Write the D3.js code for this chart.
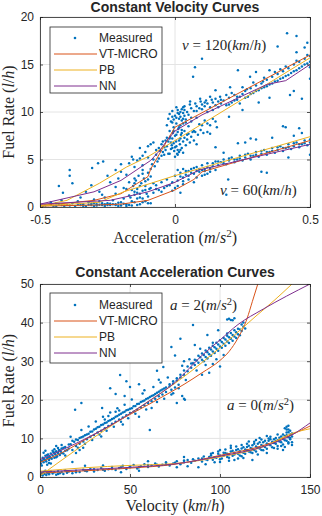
<!DOCTYPE html>
<html><head><meta charset="utf-8">
<script src="https://cdn.jsdelivr.net/npm/d3@7"></script>
<style>
html,body{margin:0;padding:0;background:#fff;}
svg{display:block;}
text{fill:#262626;}
</style></head>
<body><svg id="c" width="322" height="516"></svg>
<script>
// ---------- DATA: top panel (constant velocity) ----------
const topTitle = "Constant Velocity Curves";
const topXTicks = [-0.5, 0, 0.5];
const topYTicks = [0, 5, 10, 15, 20];
const topXTickLabels = ["-0.5", "0", "0.5"];
const seriesNames = ["VT-MICRO", "PB", "NN"];
const seriesColors = ["#D95319", "#EDB120", "#7E2F8E"];
const measuredColor = "#0072BD";

const vtMicro120 = [[-0.5,0.2],[-0.4,0.4],[-0.3,0.7],[-0.2,1.4],[-0.1,3.2],[-0.09,4.0],[0,8.4],[0.5,16.0]];
const vtMicro60  = [[-0.5,0.1],[-0.3,0.2],[-0.2,0.3],[-0.1,0.7],[0,1.8],[0.07,2.9],[0.1,3.7],[0.5,7.0]];
const pb120 = [[-0.5,0.1],[-0.4,0.7],[-0.28,2.5],[-0.18,4.2],[-0.1,5.3],[0,7.0],[0.5,15.7]];
const pb60  = [[-0.5,0.1],[-0.28,0.5],[-0.19,1.6],[-0.1,2.4],[0,3.3],[0.5,7.4]];
const nn120 = [[-0.5,0.3],[-0.3,1.6],[-0.2,2.8],[-0.09,4.9],[-0.055,6.0],[-0.03,7.0],[0,8.0],[0.1,9.7],[0.34,12.9],[0.41,13.3],[0.5,15.0]];
const nn60  = [[-0.5,0.3],[-0.24,0.7],[-0.1,1.6],[0,2.6],[0.09,3.9],[0.5,6.6]];

const measured120 = [[-0.02,9.8],[-0.01,10.1],[0,9.6],[0.01,9.9],[0.015,9.3],[-0.015,9.0],[0.005,8.8],[-0.005,8.4],[0.02,8.6],[-0.02,8.0],[0.01,7.9],[0,7.5],[-0.01,7.2],[0.015,7.0],[-0.005,6.7],[0.005,6.4],[-0.015,6.1],[0.01,6.0],[-0.02,5.6],[0,5.3],[-0.01,8.9],[0.02,9.5],[0.025,10.3],[-0.025,9.3],[0.005,10.5],[0.03,9.9],[-0.008,7.8],[0.012,8.2],[-0.018,7.4],[0.022,7.6],[0.004,6.9],[-0.012,6.5],[0.018,6.6],[-0.003,5.9],[0.008,5.6],[-0.03,8.6],[-0.035,7.0],[-0.04,6.3],[-0.045,5.8],[-0.05,6.6],[-0.06,6.2],[-0.07,5.5],[-0.08,6.8],[-0.09,6.6],[-0.1,5.2],[-0.12,5.4],[-0.13,5.1],[-0.155,5.0],[-0.17,4.6],[-0.2,3.7],[-0.21,3.0],[-0.18,3.4],[-0.24,2.6],[-0.22,2.1],[-0.28,1.6],[-0.27,1.3],[-0.285,4.6],[-0.266,4.8],[-0.307,4.1],[-0.39,3.9],[-0.39,3.3],[-0.31,2.3],[-0.415,1.5],[-0.35,1.0],
[0.03,8.8],[0.04,9.2],[0.05,8.5],[0.06,9.0],[0.07,8.0],[0.075,7.9],[0.08,9.4],[0.09,8.7],[0.1,8.6],[0.11,9.1],[0.12,8.8],[0.13,8.6],[0.14,9.3],[0.15,9.0],[0.155,8.4],[0.045,7.6],[0.035,10.2],[0.06,10.4],[0.08,10.1],[0.1,10.3],[0.12,10.0],[0.14,10.2],[0.16,10.5],[0.17,10.9],
[0.18,11.2],[0.19,10.7],[0.2,11.5],[0.21,11.0],[0.22,11.8],[0.23,11.3],[0.24,10.9],[0.25,11.9],[0.26,12.2],[0.27,11.6],[0.28,12.5],[0.29,12.0],[0.3,12.8],[0.31,12.3],[0.32,13.0],[0.33,12.6],[0.34,13.4],[0.35,12.9],[0.36,13.7],[0.37,13.2],[0.38,14.0],[0.39,13.5],[0.4,14.3],[0.41,13.8],[0.42,14.6],[0.43,14.1],[0.44,15.0],[0.45,14.4],[0.46,15.3],[0.47,14.8],[0.48,15.6],[0.49,15.1],[0.5,15.9],[0.5,14.7],
[0.415,18.3],[0.45,18.0],[0.49,17.3],[0.38,16.9],[0.1,15.6],[0.074,14.7],[0.067,13.7],[0.233,14.4],[0.278,13.7],[0.3,14.2],[0.35,14.4],[0.39,14.5],[0.45,16.3],[0.426,11.8],[0.47,11.4],[0.326,13.2],[0.266,12.4],[0.204,12.6],[0.23,11.6],[0.167,11.6],[0.136,11.3],[0.093,11.4],[0.056,11.1],[0.03,10.5],[0.41,8.4],[0.46,8.3],[0.2,9.5],[0.25,10.2],[0.15,12.3],[0.48,16.8],[0.5,13.5],[0.44,12.2],[0.35,11.5],[0.31,11.0],
[-0.005,9.2],[0.005,9.4],[0.015,9.8],[0.025,9.1],[0.035,9.6],[0.045,10.0],[0.01,10.2],[-0.01,9.5],[0.02,10.0],[0.03,9.3],[0.04,8.9],[0.05,9.7],[0.06,9.4],[0.07,10.1],[0.08,10.6],[0.09,10.4],[0.1,10.8],[0.11,10.6],[0.12,10.9],[0.13,10.5],[0.14,11.0],[0.15,10.7],[0.16,11.1],[0.035,10.6],[0.055,10.8],[0.075,10.9],[0.095,11.1],[0.115,11.2],
[0.025,7.8],[0.035,8.0],[0.05,7.7],[0.065,7.9],[0.085,7.6],[0.095,8.1],[0.105,7.8],[0.12,7.9],[0.13,7.7],
[0.015,8.4],[0.025,8.1],[0.035,7.3],[0.045,7.1],[0.055,6.8],[0.02,7.2],[0.03,6.9],[0.04,6.5],[0.015,5.8],[0.025,6.2],[0.005,7.6],[-0.005,8.0],[0,6.3],[0.01,5.5],[0.02,6.0],[0.03,5.7],[0.06,7.4],[0.07,7.0],[0.08,6.6],
[-0.04,5.5],[-0.035,6.0],[-0.03,6.4],[-0.025,6.9],[-0.02,7.2],[-0.015,6.8],[-0.01,6.2],[-0.025,5.6],[-0.03,7.3],[-0.045,6.9],[-0.05,5.4],[-0.055,5.9],
[-0.09,4.0],[-0.085,4.5],[-0.08,5.0],[-0.075,4.3],[-0.07,6.0],[-0.065,4.8],[-0.06,5.1],[-0.1,6.4],[-0.11,5.8],[-0.12,4.4],[-0.14,4.9],[-0.16,5.3],[-0.15,4.2],[-0.13,6.2],[-0.2,4.5],[-0.22,3.9],[-0.25,3.3],
[0.2,10.8],[0.22,11.2],[0.24,11.6],[0.26,11.5],[0.28,11.9],[0.3,12.2],[0.32,12.5],[0.34,12.7],[0.36,13.0],[0.38,13.3],[0.4,13.6],[0.42,13.9],[0.44,14.3],[0.46,14.6],[0.48,15.0],[0.5,15.3],[0.21,12.0],[0.25,12.6],[0.29,13.1],[0.33,13.6],[0.37,14.2],[0.41,14.8],[0.45,15.4],[0.49,16.0],[0.19,11.8],[0.17,11.3],[0.15,11.4],[0.13,11.6],[0.11,11.0]];

const measured60 = [[-0.49,0.1],[-0.47,0.2],[-0.45,0.1],[-0.43,0.3],[-0.41,0.1],[-0.4,0.2],[-0.38,0.4],[-0.37,0.1],[-0.35,0.2],[-0.34,0.3],[-0.33,0.1],[-0.32,0.5],[-0.31,0.2],[-0.3,0.1],[-0.29,0.3],[-0.28,0.6],[-0.27,0.2],[-0.26,0.1],[-0.25,0.4],[-0.24,0.2],[-0.23,0.7],[-0.22,0.3],[-0.21,0.1],[-0.2,0.5],[-0.19,0.9],[-0.18,0.3],[-0.17,1.2],[-0.16,0.6],[-0.15,1.6],[-0.14,0.9],[-0.13,1.4],[-0.12,0.5],[-0.11,1.8],[-0.1,1.1],[-0.09,2.0],[-0.08,1.5],[-0.07,2.3],[-0.06,1.8],[-0.05,2.6],[-0.04,2.0],[-0.03,2.9],[-0.02,2.3],[-0.44,0.4],[-0.36,0.6],[-0.3,0.8],[-0.42,0.7],[-0.46,0.5],[-0.26,1.0],[-0.22,1.4],[-0.18,1.9],[-0.15,2.5],[-0.33,1.6],[-0.43,2.2],[-0.38,2.5],[-0.18,0.1],[-0.14,0.2],[-0.16,0.15],[-0.1,0.4],[-0.12,0.9],
[-0.19,2.0],[-0.17,2.6],[-0.15,3.0],[-0.13,2.2],[-0.11,2.7],[-0.09,3.2],[-0.14,1.9],[-0.12,3.5],
[0,3.3],[0.01,2.8],[0.02,3.6],[0.03,3.1],[0.04,3.8],[0.05,3.3],[0.06,4.0],[0.07,3.5],[0.08,4.2],[0.09,3.7],[0.1,4.4],[0.11,4.0],[0.12,4.6],[0.13,4.1],[0.14,4.3],[0.15,4.8],[0.16,4.4],[0.17,4.7],[0.18,5.0],[0.19,4.5],[0.2,4.9],[0.21,5.2],[0.22,4.7],[0.23,5.0],[0.24,5.4],[0.25,4.9],[0.26,5.2],[0.27,5.6],[0.28,5.0],[0.29,5.4],[0.3,5.8],[0.31,5.3],[0.32,5.6],[0.33,6.0],[0.34,5.5],[0.35,5.8],[0.36,6.2],[0.37,5.7],[0.38,6.0],[0.39,6.4],[0.4,5.9],[0.41,6.2],[0.42,6.6],[0.43,6.1],[0.44,6.4],[0.45,6.8],[0.46,6.3],[0.47,6.6],[0.48,7.0],[0.49,6.5],[0.5,6.8],
[0.233,6.7],[0.26,6.8],[0.4,8.5],[0.18,5.7],[0.197,2.9],[0.32,3.7],[0.34,3.6],[0.13,3.7],[0.11,3.4],[0.3,7.1],[0.28,7.2],[0.36,7.3],[0.44,7.5],[0.47,7.8],[0.15,6.3],[0.07,2.6],[0.03,2.4],[0,2.0],[-0.01,1.7],[0.02,1.5],[0.19,1.3],[0.42,5.2],[0.5,5.5],
[-0.165,1.0],[-0.16,1.8],[-0.155,2.2],[-0.15,1.3],[-0.145,2.8],[-0.14,1.5],[-0.135,3.3],[-0.13,1.0],[-0.125,2.5],[-0.12,1.7],[-0.115,3.0],[-0.11,2.2],[-0.105,1.4],[-0.1,2.9],[-0.095,1.9],[-0.1,3.6],[-0.12,3.9],
[0.01,3.9],[0.03,4.0],[0.05,3.8],[0.07,4.1],[0.09,4.0],[0.11,3.8],[0.13,4.0],[0.15,3.9],
[0.02,3.2],[0.04,3.4],[0.06,3.6],[0.08,3.8],[0.1,3.9],[0.12,4.2],[0.14,4.6],[0.16,4.8],[0.18,4.6],[0.2,5.1],[0.22,5.0],[0.24,5.1],[0.26,5.5],[0.28,5.4],[0.3,5.5],[0.32,5.9],[0.34,5.8],[0.36,5.9],[0.38,6.3],[0.4,6.2],[0.42,6.3],[0.44,6.7],[0.46,6.6],[0.48,6.7],[0.5,7.1],[0.03,2.7],[0.05,2.9],[0.08,3.1],[0.1,3.3],[0.12,3.5],[0.01,2.2],[-0.01,2.6],[-0.03,2.2],[-0.05,1.6],[-0.07,1.9],[-0.08,2.5],
[-0.48,0.15],[-0.46,0.25],[-0.44,0.1],[-0.42,0.2],[-0.39,0.15],[-0.36,0.25],[-0.34,0.12],[-0.31,0.35],[-0.29,0.15],[-0.27,0.4],[-0.25,0.2],[-0.23,0.3],[-0.21,0.45],[-0.2,0.15],[-0.19,0.35],[-0.17,0.2],[-0.15,0.5],[-0.13,0.3],[-0.11,0.6],[-0.09,0.4],[-0.32,0.25],[-0.28,0.25],[-0.26,0.3],[-0.24,0.35],[-0.22,0.2],[-0.3,0.4]];

// ---------- DATA: bottom panel (constant acceleration) ----------
const botTitle = "Constant Acceleration Curves";
const botXTicks = [0, 50, 100, 150];
const botYTicks = [0, 10, 20, 30, 40, 50];

const vtMicroA2 = [[0,3.8],[10,5.8],[20,8.3],[30,11.0],[40,13.6],[50,16.2],[60,18.7],[70,21.3],[80,24.0],[90,27.0],[100,30.2],[105,32.5],[110,36.0],[115,41],[118,45.5],[121,50]];
const vtMicroA0 = [[0,1.0],[25,1.6],[50,2.3],[75,3.3],[100,5.6],[125,8.3],[140,11.0],[150,13.2]];
const pbA2 = [[0,0.3],[20,7.0],[40,13.4],[60,19.5],[80,26],[100,33.5],[120,41.7],[130,45.7],[140,50]];
const pbA0 = [[0,1.5],[25,2.4],[50,3.0],[75,3.5],[100,5.2],[125,8.0],[140,11.3],[150,12.5]];
const nnA2 = [[0,4.5],[20,8.7],[40,13.6],[60,19.5],[75,24.5],[90,31.5],[100,35.5],[110,39.5],[124,43.5],[150,50]];
const nnA0 = [[0,1.3],[25,1.9],[50,2.5],[75,3.4],[100,5.4],[125,8.0],[140,10.9],[150,14.0]];

const measuredA2 = [[0.5,3.5],[1,4.2],[1.5,5.0],[2,3.8],[2.5,4.6],[3,5.5],[3.5,4.0],[4,4.9],[4.5,5.8],[5,4.4],[5.5,5.2],[6,6.1],[6.5,4.7],[7,5.6],[7.5,6.4],[8,5.0],[8.5,5.9],[9,6.7],[9.5,5.4],[10,6.2],[10.5,7.0],[11,5.7],[11.5,6.6],[12,7.4],[13,6.1],[14,7.8],[15,6.9],[2,6.3],[4,3.2],[6,3.5],[8,7.2],[12,8.3],
[16,7.4],[17,8.5],[18,7.0],[19,9.1],[20,8.0],[21,9.6],[22,8.6],[23,10.3],[24,9.2],[25,10.8],[26,9.8],[27,11.2],[28,10.4],[29,11.8],[30,10.9],[18,3.9],[20,6.2],[22,7.0],[24,7.6],
[31,12.5],[32,11.5],[33,13.0],[34,12.0],[35,13.6],[36,12.6],[37,14.1],[38,13.2],[39,14.7],[40,13.8],[41,15.2],[42,14.3],[43,15.8],[44,14.9],[45,16.4],[46,15.4],[47,16.9],[48,16.0],[49,17.4],[50,16.6],[34,10.5],[38,15.8],[42,16.9],[46,13.6],[36,14.9],[44,17.2],
[51,17.8],[52,16.9],[53,18.4],[54,17.4],[55,19.0],[56,18.0],[57,19.6],[58,18.6],[59,20.2],[60,19.2],[61,20.7],[62,19.6],[63,21.2],[64,20.3],[65,21.8],[66,20.9],[67,22.4],[68,21.4],[69,22.9],[70,22.0],[61,12.2],[55,15.6],[62,17.9],
[72,23.5],[73,22.6],[74,24.2],[75,23.2],[76,25.0],[77,23.9],[78,25.8],[80,26.5],[82,27.4],[84,28.3],[85,29.5],[86,29.0],[87,30.2],[88,29.6],[89,31.0],[90,30.4],[91,31.6],[92,31.1],[93,32.3],[94,31.8],[95,33.0],[96,32.5],[97,33.6],[98,33.2],[99,34.3],[100,33.8],[101,35.0],[102,34.5],[103,35.6],[104,35.1],[105,36.2],[106,35.8],[107,36.8],[108,36.4],[109,37.5],[110,37.0],[111,38.2],[112,37.8],[113,38.9],[114,38.5],[112,39.5],[113,40.0],[96,34.8],[104,37.2],[98,30.5],[102,31.6],[100,28.6],[96,29.3],
[104,40.8],[105,41.0],[106,40.7],[107,40.6],[108,41.1],[85,39.4],[99,38.0],[93,36.8],[78,35.8],[73,33.7],[75,31.5],[68.5,28.5],[65,27.5],[44.5,26.4],[48,24.8],[39,23.0],[23,19.2],[19.5,17.4],[34.5,17.9],[50,23.3],[47,21.0],[42,21.5],[55,24.0],[58,22.5],[66,25.2],[80,30.0],[86,34.2],[90,26.5],[94,27.0],[79,21.0],[80,20.3],[77,23.0],[74,21.7],[76,19.2],[80.5,20.0],
[1,3.0],[2,4.6],[3,4.3],[4,5.7],[5,5.1],[6,4.9],[7,6.8],[8,6.2],[9,5.1],[10,7.5],[11,6.9],[12,6.2],[13,7.6],[14,6.8],[16,8.4],[18,9.4],[20,9.7],[22,10.1],[24,10.5],[26,11.0],[28,11.7],[30,12.3],[32,12.9],[34,13.5],[36,14.0],[38,14.5],[40,15.0],[42,15.6],[44,16.1],[46,16.7],[48,17.3],[50,17.7],[52,18.3],[54,18.9],[56,19.4],[58,19.8],[60,20.4],[62,21.0],[64,21.5],[66,22.1],[68,22.7],[70,23.2],[72,24.0],[74,24.8],[76,25.6],[78,26.5],[80,27.6],[82,28.6],[84,29.4],[86,30.4],[88,31.4],[90,32.0],[92,32.8],[94,33.5],[96,34.0],[98,34.8],[100,35.4],[102,36.0],[104,36.6],[106,37.3],[108,38.0],[110,38.4],[111,36.7],[109,36.0],[107,35.3],[105,34.7],[103,34.0],[101,33.5],[99,32.7],[97,32.1],[95,31.4],[93,30.7],[91,30.0],
[3,6.8],[5,3.6],[9,8.0],[14,5.6],[17,10.4],[21,7.6],[23,12.2],[25,8.6],[27,13.1],[29,9.6],[31,14.4],[33,11.0],[35,15.6],[37,12.0],[39,16.7],[41,13.0],[43,17.8],[45,14.3],[47,18.7],[49,15.2],[51,20.1],[53,16.4],[57,21.6],[59,17.5],[63,23.3],[65,19.4],[67,24.5],[69,20.3],[71,25.8],[73,21.4],[79,28.8],[81,25.1],[83,30.5],[87,27.6],[89,33.2],[92,29.0]];

const measuredA0 = [[0.5,0.6],[1,1.0],[1.5,0.4],[2,1.3],[2.5,0.8],[3,1.6],[3.5,0.5],[4,1.1],[5,0.7],[6,1.4],[7,0.9],[8,1.2],[9,0.6],[10,1.5],[11,1.0],[12,1.3],[13,0.8],[14,1.7],[15,1.1],[16,1.4],[18,1.0],[20,1.6],[22,1.3],[24,1.9],[26,1.5],[28,2.1],[30,1.4],[32,1.8],[34,2.3],[36,1.6],[38,2.0],[40,2.6],[42,1.8],[44,2.3],[46,2.9],[48,2.1],[50,2.5],[52,3.1],[54,2.2],[56,2.8],[58,3.3],[60,2.6],[62,3.0],[64,3.5],[66,2.7],[68,3.2],[70,3.8],[72,3.0],[74,3.5],[76,4.1],[78,3.3],[80,3.8],[82,4.4],[84,3.7],[86,4.2],[88,4.8],[90,4.0],[92,4.6],[94,5.2],[96,4.5],[98,5.0],[100,5.6],[101,4.8],[102,5.5],[103,6.2],[104,5.2],[105,5.9],[106,6.6],[107,5.5],[108,6.3],[109,7.0],[110,6.0],[111,6.7],[112,7.4],[113,6.3],[114,7.1],[115,7.8],[116,6.6],[117,7.5],[118,8.2],[119,7.0],[120,7.9],[121,8.6],[122,7.4],[123,8.3],[124,9.0],[125,7.8],[126,8.7],[127,9.4],[128,8.2],[129,9.1],[130,9.8],[131,8.6],[132,9.5],[133,10.2],[134,9.0],[135,9.9],[136,10.6],[137,9.4],[137,11.5],[138,10.3],[138,12.3],[138,8.7],[139,11.0],[139,9.8],[136,12.6],[137,13.0],[140,10.5],[140,9.0],[128,10.4],[124,6.9],[118,6.2],[112,5.4],[106,8.1],[100,7.0],[96,6.2],[92,3.3],[88,2.5],[82,2.8],[76,2.5],[110,4.8],[130,7.5],[134,8.0],[126,10.6],[120,9.6],[60,4.1],[55,1.6],[45,1.2],[35,3.0],[25,2.9],[80,5.2],[100,3.9],[116,9.2],[122,10.1],[132,11.0],[136,7.8],
[90,4.8],[91,5.3],[93,4.4],[95,5.6],[97,5.1],[99,6.0],[100,4.6],[102,6.3],[104,6.0],[105,5.0],[107,6.8],[108,5.8],[110,7.2],[111,5.6],[113,7.7],[114,6.0],[115,6.9],[116,8.1],[117,6.4],[118,7.3],[119,8.6],[120,6.6],[121,7.6],[122,9.0],[123,7.0],[124,8.0],[125,9.4],[126,7.3],[127,8.5],[128,9.8],[129,7.7],[130,8.8],[131,10.1],[132,8.0],[133,9.2],[134,10.5],[135,8.4],[136,9.5],[137,10.8],[138,9.0],[138,11.6],[139,10.1],[139,12.0],[137,12.3],[138,13.3],[140,11.3],[135,11.0],[131,9.3],[127,10.0],[123,9.7],[119,9.1],[115,8.6],[112,8.3],[109,7.9],[106,7.5],[103,7.1],[99,6.6],[95,6.0],[97,3.8],[105,4.2],[113,4.9],[121,5.8],[126,6.2],[132,7.3],[135,7.0],[140,8.3],[118,4.4],[108,4.4],
[5,1.0],[10,0.8],[15,1.5],[20,1.2],[25,1.6],[30,2.0],[35,1.9],[40,2.1],[45,2.5],[50,2.8],[55,2.5],[60,3.1],[65,3.2],[70,3.3],[75,3.7],[80,4.3],[85,4.6]];

// ---------- DRAWING ----------
const svg = d3.select("#c");
const SANS = "'Liberation Sans', Arial, Helvetica, sans-serif";
const SERIF = "'Liberation Serif', 'Times New Roman', serif";
const AX = "#262626";

function mathText(g, x, y, parts, size, anchor) {
  const t = g.append("text").attr("x", x).attr("y", y)
    .attr("font-family", SERIF).attr("font-size", size)
    .attr("text-anchor", anchor || "start");
  parts.forEach(p => {
    const ts = t.append("tspan").text(p.t);
    if (p.i) ts.attr("font-style", "italic");
    if (p.sup) ts.attr("baseline-shift", "super").attr("font-size", size * 0.7);
  });
  return t;
}

function panel(cfg) {
  const {x0, x1, y0, y1} = cfg;
  const xs = d3.scaleLinear().domain(cfg.xDomain).range([x0, x1]);
  const ys = d3.scaleLinear().domain(cfg.yDomain).range([y1, y0]);
  const g = svg.append("g");
  const cid = "clip" + cfg.id;
  svg.append("clipPath").attr("id", cid).append("rect")
    .attr("x", x0).attr("y", y0).attr("width", x1 - x0).attr("height", y1 - y0);

  const grid = g.append("g").attr("stroke", "#e4e4e4").attr("stroke-width", 1);
  cfg.xTicks.forEach(v => grid.append("line").attr("x1", xs(v)).attr("x2", xs(v)).attr("y1", y0).attr("y2", y1));
  cfg.yTicks.forEach(v => grid.append("line").attr("x1", x0).attr("x2", x1).attr("y1", ys(v)).attr("y2", ys(v)));

  const pts = g.append("g").attr("clip-path", `url(#${cid})`);
  cfg.measured.forEach(arr => {
    pts.selectAll(null).data(arr).enter().append("circle")
      .attr("cx", d => xs(d[0])).attr("cy", d => ys(d[1])).attr("r", 1.25)
      .attr("fill", measuredColor);
  });

  const line = d3.line().x(d => xs(d[0])).y(d => ys(d[1])).curve(cfg.curve);
  const lg = g.append("g").attr("clip-path", `url(#${cid})`).attr("fill", "none").attr("stroke-width", 1);
  cfg.lines.forEach((pair, i) => {
    pair.forEach(arr => lg.append("path").attr("d", line(arr)).attr("stroke", seriesColors[i]));
  });

  const axB = d3.axisBottom(xs).tickValues(cfg.xTicks).tickSize(-3).tickPadding(8.5)
    .tickFormat((d, i) => cfg.xLabels ? cfg.xLabels[i] : d);
  const axL = d3.axisLeft(ys).tickValues(cfg.yTicks).tickSize(-3).tickPadding(6);
  const gb = g.append("g").attr("transform", `translate(0,${y1})`).call(axB);
  const gl = g.append("g").attr("transform", `translate(${x0},0)`).call(axL);
  const gt = g.append("g").attr("transform", `translate(0,${y0})`).call(d3.axisTop(xs).tickValues(cfg.xTicks).tickSize(-3).tickFormat(""));
  const gr = g.append("g").attr("transform", `translate(${x1},0)`).call(d3.axisRight(ys).tickValues(cfg.yTicks).tickSize(-3).tickFormat(""));
  [gb, gl, gt, gr].forEach(a => {
    a.select(".domain").attr("stroke", AX).attr("stroke-width", 0.8);
    a.selectAll(".tick line").attr("stroke", AX).attr("stroke-width", 0.8);
    a.selectAll(".tick text").attr("font-family", SANS).attr("font-size", 12).attr("fill", AX);
  });

  g.append("text").attr("x", (x0 + x1) / 2).attr("y", cfg.titleY).attr("text-anchor", "middle")
    .attr("font-family", SANS).attr("font-weight", "bold").attr("font-size", 14).attr("fill", "#000").text(cfg.title);

  mathText(g, (x0 + x1) / 2, cfg.xLabelY, cfg.xLabelParts, 16, "middle");
  const yl = mathText(g, 0, 0, [{t:"Fuel Rate ("},{t:"l",i:1},{t:"/"},{t:"h",i:1},{t:")"}], 16, "middle");
  yl.attr("transform", `translate(14,${(y0 + y1) / 2}) rotate(-90)`);

  cfg.notes.forEach(n => mathText(g, n.x, n.y, n.parts, 15, "start"));

  const L = cfg.legend;
  const leg = g.append("g");
  leg.append("rect").attr("x", L.x).attr("y", L.y).attr("width", L.w).attr("height", L.h)
    .attr("fill", "#fff").attr("stroke", AX).attr("stroke-width", 0.8);
  const names = ["Measured"].concat(seriesNames);
  names.forEach((nm, i) => {
    const cy = L.y + L.first + i * L.step;
    if (i === 0) leg.append("circle").attr("cx", L.x + 25).attr("cy", cy).attr("r", 1.3).attr("fill", measuredColor);
    else leg.append("line").attr("x1", L.x + 4).attr("x2", L.x + 47).attr("y1", cy).attr("y2", cy)
      .attr("stroke", seriesColors[i - 1]).attr("stroke-width", 1);
    leg.append("text").attr("x", L.x + 49).attr("y", cy + 4.3).attr("font-family", SANS)
      .attr("font-size", 12).attr("fill", "#000").text(nm);
  });
}

panel({
  id: "top", x0: 40, x1: 310, y0: 17, y1: 207,
  xDomain: [-0.5, 0.5], yDomain: [0, 20],
  xTicks: topXTicks, yTicks: topYTicks, xLabels: topXTickLabels,
  measured: [measured120, measured60],
  lines: [[vtMicro120, vtMicro60], [pb120, pb60], [nn120, nn60]],
  curve: d3.curveLinear,
  title: topTitle, titleY: 11.5,
  xLabelY: 243,
  xLabelParts: [{t:"Acceleration ("},{t:"m",i:1},{t:"/"},{t:"s",i:1},{t:"2",sup:1},{t:")"}],
  notes: [
    {x: 182, y: 50, parts: [{t:"v",i:1},{t:" = 120("},{t:"km",i:1},{t:"/"},{t:"h",i:1},{t:")"}]},
    {x: 220, y: 195, parts: [{t:"v",i:1},{t:" = 60("},{t:"km",i:1},{t:"/"},{t:"h",i:1},{t:")"}]}
  ],
  legend: {x: 50, y: 27, w: 112, h: 66, first: 11, step: 16}
});

panel({
  id: "bot", x0: 40, x1: 310, y0: 284, y1: 477,
  xDomain: [0, 150], yDomain: [0, 50],
  xTicks: botXTicks, yTicks: botYTicks,
  measured: [measuredA2, measuredA0],
  lines: [[vtMicroA2, vtMicroA0], [pbA2, pbA0], [nnA2, nnA0]],
  curve: d3.curveMonotoneX,
  title: botTitle, titleY: 277,
  xLabelY: 511,
  xLabelParts: [{t:"Velocity ("},{t:"km",i:1},{t:"/"},{t:"h",i:1},{t:")"}],
  notes: [
    {x: 170, y: 310, parts: [{t:"a",i:1},{t:" = 2("},{t:"m",i:1},{t:"/"},{t:"s",i:1},{t:"2",sup:1},{t:")"}]},
    {x: 227, y: 410, parts: [{t:"a",i:1},{t:" = 0("},{t:"m",i:1},{t:"/"},{t:"s",i:1},{t:"2",sup:1},{t:")"}]}
  ],
  legend: {x: 50, y: 293, w: 112, h: 70, first: 12, step: 16}
});
</script></body></html>
